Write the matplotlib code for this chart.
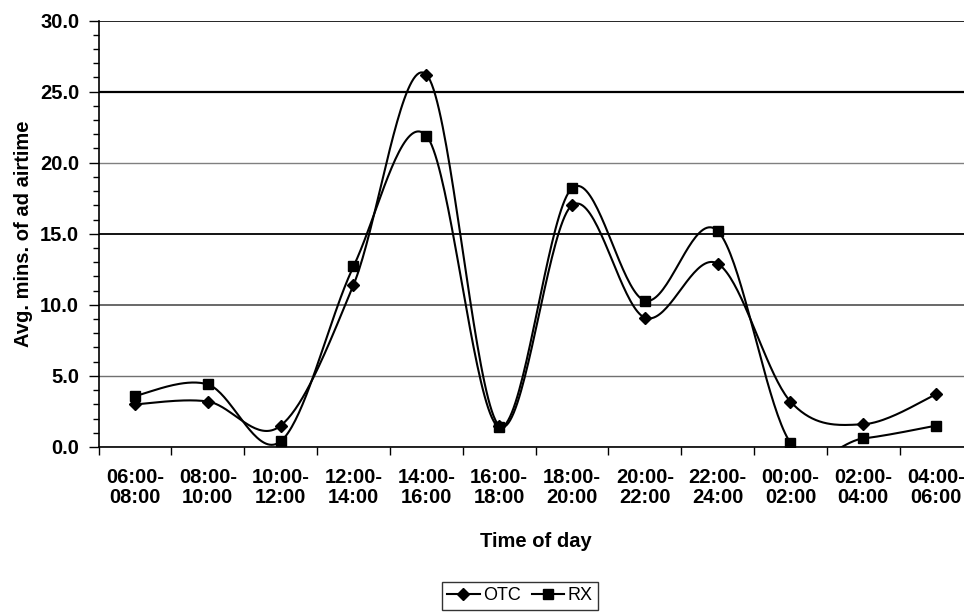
import numpy as np
import matplotlib
matplotlib.use("Agg")
import matplotlib.pyplot as plt

plt.rcParams["font.family"] = ["Liberation Sans", "DejaVu Sans"]

categories = ["06:00-\n08:00", "08:00-\n10:00", "10:00-\n12:00", "12:00-\n14:00",
              "14:00-\n16:00", "16:00-\n18:00", "18:00-\n20:00", "20:00-\n22:00",
              "22:00-\n24:00", "00:00-\n02:00", "02:00-\n04:00", "04:00-\n06:00"]
otc = [3.0, 3.2, 1.5, 11.4, 26.2, 1.5, 17.0, 9.1, 12.9, 3.2, 1.6, 3.7]
rx = [3.6, 4.4, 0.4, 12.7, 21.9, 1.4, 18.2, 10.3, 15.2, 0.3, 0.6, 1.5]
yticks = [0, 5, 10, 15, 20, 25, 30]


def smooth(y, n=40):
    # excel-like smoothed line: cubic bezier through the points
    y = np.asarray(y, dtype=float)
    x = np.arange(len(y), dtype=float)
    xs, ys, marks = [], [], []
    for i in range(len(y) - 1):
        i0 = max(i - 1, 0)
        i3 = min(i + 2, len(y) - 1)
        p1 = np.array([x[i], y[i]])
        p2 = np.array([x[i + 1], y[i + 1]])
        c1 = p1 + (np.array([x[i + 1], y[i + 1]]) - np.array([x[i0], y[i0]])) / 6.0
        c2 = p2 - (np.array([x[i3], y[i3]]) - np.array([x[i], y[i]])) / 6.0
        t = np.linspace(0, 1, n, endpoint=False)[:, None]
        b = ((1 - t) ** 3) * p1 + 3 * ((1 - t) ** 2) * t * c1 + 3 * (1 - t) * t ** 2 * c2 + t ** 3 * p2
        marks.append(len(xs))
        xs.extend(b[:, 0]); ys.extend(b[:, 1])
    marks.append(len(xs))
    xs.append(x[-1]); ys.append(y[-1])
    return np.array(xs), np.array(ys), marks


fig = plt.figure(figsize=(9.64, 6.14), dpi=100)
ax = fig.add_axes([98.6 / 964, 1 - 447 / 614, (972.5 - 98.6) / 964, (447 - 20.5) / 614])

sx, sy, mk = smooth(otc)
ax.plot(sx, sy, color="black", lw=1.5, marker="D", markersize=6, markevery=mk, label="OTC")
sx, sy, mk = smooth(rx)
ax.plot(sx, sy, color="black", lw=1.5, marker="s", markersize=6.5, markevery=mk, label="RX")

ax.set_xlim(-0.5, len(categories) - 0.5)
ax.set_ylim(0, 30)
ax.set_yticks(yticks)
ax.set_yticklabels([f"{v:.1f}" for v in yticks], fontsize=14.5, fontweight="bold")
ax.set_yticks(np.arange(0, 31, 1), minor=True)
ax.tick_params(axis="y", which="major", direction="out", length=7, width=1, pad=7)
ax.tick_params(axis="y", which="minor", direction="out", length=4, width=1)

ax.set_xticks(np.arange(len(categories)))
ax.set_xticklabels(categories, fontsize=14.5, fontweight="bold", linespacing=1.05)
ax.set_xticks(np.arange(len(categories) + 1) - 0.5, minor=True)
ax.tick_params(axis="x", which="major", length=0, pad=15)
ax.tick_params(axis="x", which="minor", direction="out", length=6, width=1)

ax.yaxis.grid(True, which="major")
gcol = ["black", "#707070", "#404040", "black", "#808080", "black", "black"]
glw = [1.0, 1.0, 1.1, 1.3, 1.0, 1.6, 1.2]
for gl, c, w in zip(ax.get_ygridlines(), gcol, glw):
    gl.set_color(c)
    gl.set_linewidth(w)

for s in ["top", "right"]:
    ax.spines[s].set_visible(False)
ax.spines["left"].set_linewidth(1.2)
ax.spines["bottom"].set_linewidth(1.2)

ax.set_ylabel("Avg. mins. of ad airtime", fontsize=14.5, fontweight="bold", labelpad=5)
ax.set_xlabel("Time of day", fontsize=14.5, fontweight="bold", labelpad=18)

leg = fig.legend(loc="upper center", bbox_to_anchor=(520 / 964, 1 - 582 / 614), ncol=2,
                 fontsize=13, frameon=True, fancybox=False, edgecolor="black",
                 handlelength=1.8, handletextpad=0.2, columnspacing=0.6,
                 borderpad=0.3, borderaxespad=0)
leg.get_frame().set_linewidth(1.0)

fig.savefig("out.png", dpi=100)
